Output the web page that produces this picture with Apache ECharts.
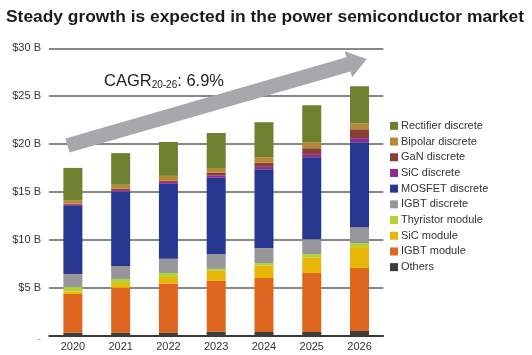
<!DOCTYPE html>
<html>
<head>
<meta charset="utf-8">
<script src="https://cdn.jsdelivr.net/npm/echarts@6/dist/echarts.min.js"></script>
<style>
html,body{margin:0;padding:0;background:#fff;}
#chart{width:532px;height:355px;}
</style>
</head>
<body>
<div id="chart"></div>
<script>
var years = ['2020', '2021', '2022', '2023', '2024', '2025', '2026'];
var others       = [0.35, 0.33, 0.33, 0.45, 0.42, 0.42, 0.52];
var igbtModule   = [4.03, 4.70, 5.12, 5.30, 5.62, 6.14, 6.56];
var sicModule    = [0.27, 0.50, 0.70, 1.05, 1.28, 1.60, 2.19];
var thyristor    = [0.45, 0.42, 0.41, 0.20, 0.28, 0.38, 0.42];
var igbtDiscrete = [1.36, 1.35, 1.50, 1.55, 1.57, 1.56, 1.66];
var mosfet       = [7.11, 7.74, 7.81, 7.95, 8.23, 8.55, 8.86];
var sicDiscrete  = [0.12, 0.17, 0.20, 0.25, 0.24, 0.31, 0.42];
var ganDiscrete  = [0.12, 0.15, 0.11, 0.27, 0.42, 0.62, 0.93];
var bipolar      = [0.36, 0.41, 0.52, 0.50, 0.59, 0.63, 0.63];
var rectifier    = [3.36, 3.30, 3.54, 3.65, 3.64, 3.85, 3.85];
var yTicks = [0, 5, 10, 15, 20, 25, 30];

var seriesDefs = [
  ['Others', others, '#3d3d3d'],
  ['IGBT module', igbtModule, '#df661e'],
  ['SiC module', sicModule, '#e9b709'],
  ['Thyristor module', thyristor, '#b3d235'],
  ['IGBT discrete', igbtDiscrete, '#97979b'],
  ['MOSFET discrete', mosfet, '#27378f'],
  ['SiC discrete', sicDiscrete, '#8e2a92'],
  ['GaN discrete', ganDiscrete, '#8b3e36'],
  ['Bipolar discrete', bipolar, '#b58937'],
  ['Rectifier discrete', rectifier, '#6e812e']
];

var FONT = '"Liberation Sans", Arial, Helvetica, sans-serif';

// arrow geometry (decoration)
var tail = [67.5, 145.5], tip = [366.7, 59];
var bodyHalf = 7.4, headHalf = 13.5, headLen = 19;
function arrowPoints() {
  var dx = tip[0] - tail[0], dy = tip[1] - tail[1];
  var L = Math.sqrt(dx * dx + dy * dy);
  var ux = dx / L, uy = dy / L, nx = -uy, ny = ux;
  var bx = tail[0] + ux * (L - headLen), by = tail[1] + uy * (L - headLen);
  return [
    [tail[0] + nx * bodyHalf, tail[1] + ny * bodyHalf],
    [bx + nx * bodyHalf, by + ny * bodyHalf],
    [bx + nx * headHalf, by + ny * headHalf],
    tip,
    [bx - nx * headHalf, by - ny * headHalf],
    [bx - nx * bodyHalf, by - ny * bodyHalf],
    [tail[0] - nx * bodyHalf, tail[1] - ny * bodyHalf]
  ];
}

var chart = echarts.init(document.getElementById('chart'), null, {renderer: 'canvas'});
var option = {
  animation: false,
  backgroundColor: '#ffffff',
  title: {
    text: 'Steady growth is expected in the power semiconductor market',
    left: 6, top: 9, padding: 0,
    textStyle: {fontFamily: FONT, fontSize: 17.4, fontWeight: 'bold', color: '#1a1a1a'}
  },
  legend: {
    orient: 'vertical',
    left: 390, top: 119, padding: 0,
    itemWidth: 8, itemHeight: 8, itemGap: 2,
    icon: 'rect',
    data: seriesDefs.map(function (d) { return d[0]; }).reverse(),
    textStyle: {fontFamily: FONT, fontSize: 11, color: '#333', lineHeight: 13.7, padding: [0, 0, 0, -2]}
  },
  grid: {left: 49, right: 148.6, top: 48.3, bottom: 19, containLabel: false},
  xAxis: {
    type: 'category',
    data: years,
    axisTick: {show: false},
    axisLine: {lineStyle: {color: '#222', width: 1.5}},
    axisLabel: {fontFamily: FONT, fontSize: 11, color: '#333', margin: 5}
  },
  yAxis: {
    type: 'value',
    min: yTicks[0], max: yTicks[yTicks.length - 1], interval: 5,
    axisLine: {show: false},
    axisTick: {show: false},
    splitLine: {lineStyle: {color: '#606060', width: 1.5}},
    axisLabel: {
      fontFamily: FONT, fontSize: 11, color: '#333', margin: 8,
      formatter: function (v) { return v === 0 ? '{d|-}' : '$' + v + ' B'; },
      rich: {d: {color: '#999', fontSize: 11, padding: [6, 0, 0, 0]}}
    }
  },
  series: seriesDefs.map(function (d) {
    return {
      name: d[0], type: 'bar', stack: 'total', data: d[1],
      barWidth: 19,
      itemStyle: {color: d[2]},
      emphasis: {disabled: true}
    };
  }),
  graphic: [
    {type: 'polygon', shape: {points: arrowPoints()}, style: {fill: '#a7a8ab'}, z: 10},
    {
      type: 'text', left: 104, top: 72, z: 11,
      style: {
        text: '{m|CAGR}{s|20-26}{m|: 6.9%}',
        rich: {
          m: {fontFamily: FONT, fontSize: 16.5, fill: '#222', verticalAlign: 'bottom', lineHeight: 18},
          s: {fontFamily: FONT, fontSize: 10, fill: '#222', padding: [8, 0, 0, 0], lineHeight: 18}
        }
      }
    }
  ]
};
chart.setOption(option);
</script>
</body>
</html>
